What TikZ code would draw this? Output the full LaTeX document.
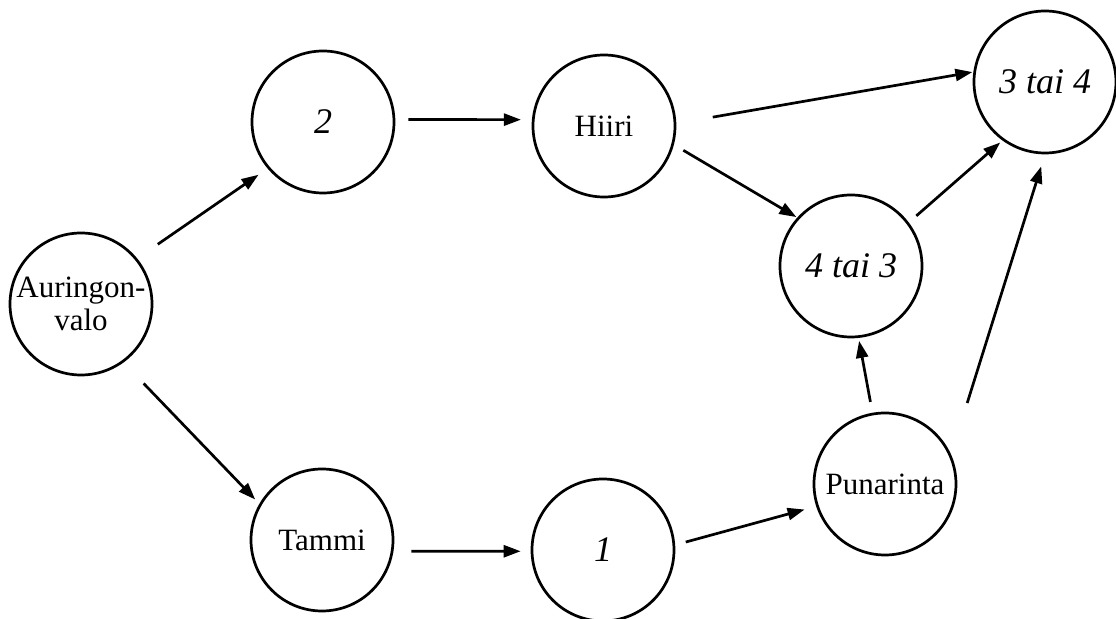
\documentclass[tikz,border=0pt]{standalone}
\usepackage{fontspec}
\setmainfont{Liberation Serif}
\usetikzlibrary{arrows.meta}
\begin{document}
\begin{tikzpicture}[x=0.5pt,y=-0.5pt,
  state/.style={circle,draw,line width=1.35pt,minimum size=71pt,inner sep=0pt,
    align=center,font=\fontsize{15.5}{16.5}\selectfont},
  num/.style={state,font=\fontsize{18}{20}\selectfont\itshape},
  link/.style={line width=1.35pt,-{Triangle[length=8.5pt,width=6pt]}}]
\useasboundingbox (0,0) rectangle (1116,619);
\node[state] (aur) at (81,304) {Auringon-\\valo};
\node[num] (two) at (323,122) {2};
\node[state] (hiiri) at (604,126) {Hiiri};
\node[num] (t34) at (1045,82) {3 tai 4};
\node[num] (t43) at (851,266) {4 tai 3};
\node[state] (pun) at (885,484) {Punarinta};
\node[state] (tammi) at (322,540) {Tammi};
\node[num] (one) at (603,550) {1};
\draw[link,shorten <=12.5pt,shorten >=5.5pt] (aur.39.5) -- (two.220);
\draw[link,shorten <=6.5pt,shorten >=5.5pt] (two.2) -- (hiiri.175);
\draw[link,shorten <=14.5pt,shorten >=3pt] (aur.-54) -- (tammi.150);
\draw[link,shorten <=9pt,shorten >=5pt] (tammi.-9.7) -- (one.181.6);
\draw[link,shorten <=5.5pt,shorten >=6pt] (one.4.9) -- (pun.198.2);
\draw[link,shorten <=18.5pt,shorten >=0.5pt] (hiiri.2.7) -- (t34.172);
\draw[link,shorten <=5.5pt,shorten >=0.5pt] (hiiri.-15.6) -- (t43.138.4);
\draw[link,shorten <=5pt,shorten >=1.5pt] (t43.37.4) -- (t34.234.4);
\draw[link,shorten <=5.5pt,shorten >=1.5pt] (pun.100.5) -- (t43.-84.6);
\draw[link,shorten <=27pt,shorten >=6.3pt] (pun.24.3) -- (t34.270);
\end{tikzpicture}
\end{document}
